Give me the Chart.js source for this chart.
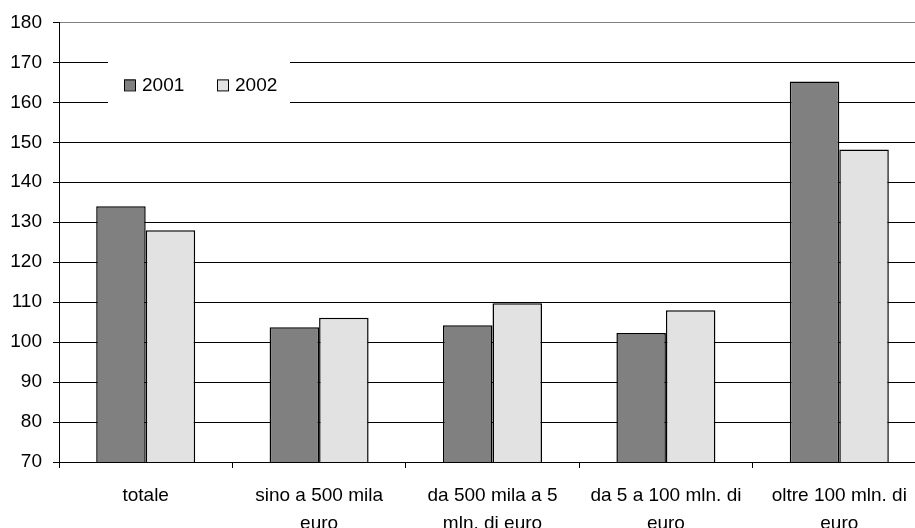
<!DOCTYPE html>
<html>
<head>
<meta charset="utf-8">
<script src="https://cdn.jsdelivr.net/npm/chart.js@4/dist/chart.umd.min.js"></script>
<style>
  html, body { margin: 0; padding: 0; background: #fff; overflow: hidden; }
  #wrap { width: 926px; height: 528px; }
</style>
</head>
<body>
<div id="wrap"><canvas id="chart" width="926" height="528"></canvas></div>
<script>
// Categories and values
const categories = [
    "totale",
    ["sino a 500 mila", "euro"],
    ["da 500 mila a 5", "mln. di euro"],
    ["da 5 a 100 mln. di", "euro"],
    ["oltre 100 mln. di", "euro"]
];
const values2001 = [134, 103.7, 104.2, 102.3, 165.2];
const values2002 = [128, 106.1, 109.7, 108.0, 148.2];
const yMin = 70, yMax = 180, yStep = 10;

const fontSpec = { family: "'Liberation Sans', Arial, sans-serif", size: 19 };

//Legend drawn inside the plot area, on a white box
const innerLegend = {
    id: 'innerLegend',
    afterDraw(chart) {
        const ctx = chart.ctx;
        const a = chart.chartArea;
        const x0 = a.left + 49, y0 = a.top + 32;
        ctx.save();
        ctx.fillStyle = '#fff';
        ctx.fillRect(x0, y0, 182, 62);
        ctx.font = `${fontSpec.size}px ${fontSpec.family}`;
        ctx.textBaseline = 'middle';
        const offsets = [16, 109];
        chart.data.datasets.forEach((ds, i) => {
            const sx = x0 + offsets[i], sy = y0 + 25;
            ctx.fillStyle = ds.backgroundColor;
            ctx.fillRect(sx, sy, 11, 11);
            ctx.strokeStyle = '#000';
            ctx.lineWidth = 1;
            ctx.strokeRect(sx + 0.5, sy + 0.5, 11, 11);
            ctx.fillStyle = '#000';
            ctx.fillText(ds.label, sx + 18, sy + 6.5);
        });
        ctx.restore();
    }
};

new Chart(document.getElementById('chart').getContext('2d'), {
    type: 'bar',
    data: {
        labels: categories,
        datasets: [
            { label: '2001', data: values2001, backgroundColor: '#808080', borderColor: '#000', borderWidth: 1.5 },
            { label: '2002', data: values2002, backgroundColor: '#e2e2e2', borderColor: '#000', borderWidth: 1.5 }
        ]
    },
    options: {
        responsive: false,
        animation: false,
        devicePixelRatio: 1,
        layout: { padding: { top: 19, left: 0, right: 0, bottom: 0 } },
        datasets: { bar: { categoryPercentage: 0.571, barPercentage: 1.0 } },
        plugins: { legend: { display: false }, tooltip: { enabled: false } },
        scales: {
            x: {
                grid: { offset: true, drawOnChartArea: false, drawTicks: true, tickLength: 6, color: '#000' },
                border: { color: '#000', width: 1 },
                ticks: { color: '#000', font: { ...fontSpec, lineHeight: 1.45 }, padding: 14, maxRotation: 0, autoSkip: false },
                afterFit(scale) { scale.height = 66; }
            },
            y: {
                min: yMin,
                max: yMax,
                grid: {
                    color: ctx => ctx.tick && ctx.tick.value === yMax ? '#808080' : '#000',
                    tickColor: '#000',
                    tickLength: 6,
                    lineWidth: 1
                },
                border: { color: '#000', width: 1 },
                ticks: { stepSize: yStep, color: '#000', font: fontSpec, padding: 11 },
                afterFit(scale) { scale.width = 59; }
            }
        }
    },
    plugins: [innerLegend]
});
</script>
</body>
</html>
